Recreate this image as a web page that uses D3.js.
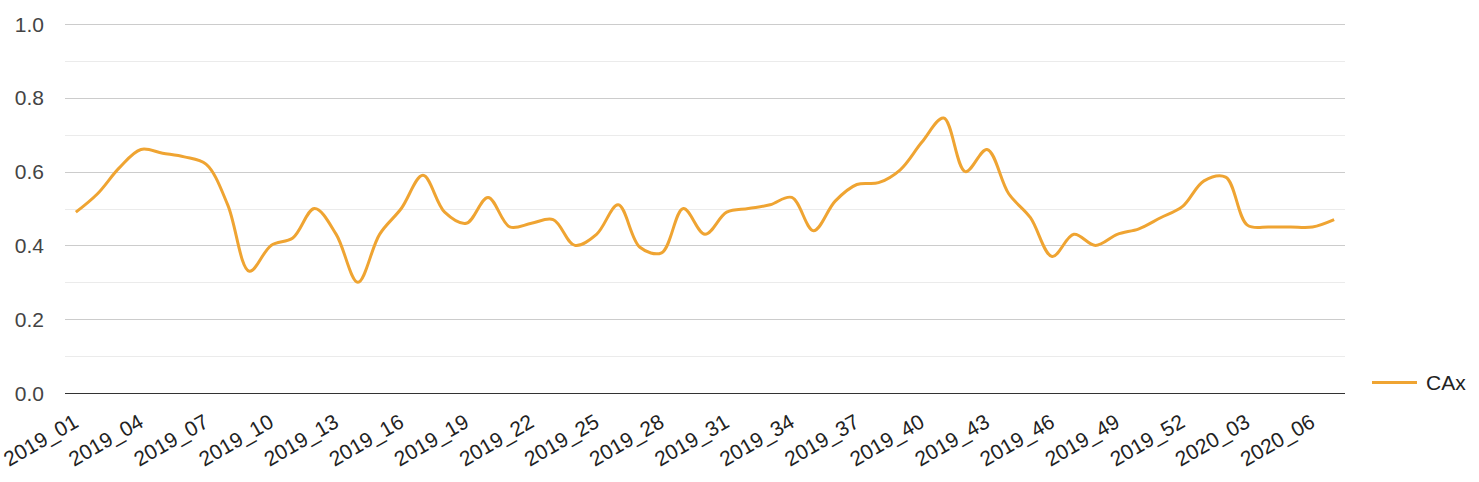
<!DOCTYPE html>
<html>
<head>
<meta charset="utf-8">
<script src="https://cdn.jsdelivr.net/npm/d3@7"></script>
<style>
  html, body { margin: 0; padding: 0; background: #fff; }
  svg { display: block; font-family: Arial, "Liberation Sans", sans-serif; }
</style>
</head>
<body>
<svg id="chart" width="1479" height="482"></svg>
<script>
// ---- data ----
const categories = [
  "2019_01","2019_02","2019_03","2019_04","2019_05","2019_06","2019_07","2019_08","2019_09","2019_10",
  "2019_11","2019_12","2019_13","2019_14","2019_15","2019_16","2019_17","2019_18","2019_19","2019_20",
  "2019_21","2019_22","2019_23","2019_24","2019_25","2019_26","2019_27","2019_28","2019_29","2019_30",
  "2019_31","2019_32","2019_33","2019_34","2019_35","2019_36","2019_37","2019_38","2019_39","2019_40",
  "2019_41","2019_42","2019_43","2019_44","2019_45","2019_46","2019_47","2019_48","2019_49","2019_50",
  "2019_51","2019_52","2020_01","2020_02","2020_03","2020_04","2020_05","2020_06","2020_07"
];
const seriesName = "CAx";
const caxValues = [
  0.49, 0.54, 0.61, 0.66, 0.65, 0.64, 0.62, 0.51, 0.33, 0.40,
  0.42, 0.50, 0.43, 0.30, 0.43, 0.50, 0.59, 0.49, 0.46, 0.53,
  0.45, 0.46, 0.47, 0.40, 0.43, 0.51, 0.395, 0.38, 0.50, 0.43,
  0.49, 0.50, 0.51, 0.53, 0.44, 0.52, 0.565, 0.57, 0.605, 0.68,
  0.745, 0.60, 0.66, 0.54, 0.475, 0.37, 0.43, 0.40, 0.43, 0.445,
  0.475, 0.505, 0.575, 0.585, 0.455, 0.45, 0.45, 0.45, 0.47
];
const yTicks = [0, 0.2, 0.4, 0.6, 0.8, 1.0];
const yMinorTicks = [0.1, 0.3, 0.5, 0.7, 0.9];
const xTickLabels = categories.filter((d, i) => i % 3 === 0);

// ---- layout ----
const svg = d3.select("#chart");
const plotLeft = 65, plotRight = 1345, plotTop = 24, plotBottom = 393;
const color = "#efa432";

const x = d3.scalePoint().domain(categories).range([plotLeft, plotRight]).padding(0.5);
const y = d3.scaleLinear().domain([0, 1]).range([plotBottom, plotTop]);

// minor gridlines
svg.append("g").selectAll("line").data(yMinorTicks).join("line")
  .attr("x1", plotLeft).attr("x2", plotRight)
  .attr("y1", d => Math.round(y(d)) + 0.5).attr("y2", d => Math.round(y(d)) + 0.5)
  .attr("stroke", "#ebebeb").attr("stroke-width", 1);

// major gridlines
svg.append("g").selectAll("line").data(yTicks.filter(d => d !== 0)).join("line")
  .attr("x1", plotLeft).attr("x2", plotRight)
  .attr("y1", d => Math.round(y(d)) + 0.5).attr("y2", d => Math.round(y(d)) + 0.5)
  .attr("stroke", "#cccccc").attr("stroke-width", 1);

// baseline
svg.append("line")
  .attr("x1", plotLeft).attr("x2", plotRight)
  .attr("y1", Math.round(y(0)) + 0.5).attr("y2", Math.round(y(0)) + 0.5)
  .attr("stroke", "#333").attr("stroke-width", 1);

// y tick labels
svg.append("g").selectAll("text").data(yTicks).join("text")
  .attr("x", 44).attr("y", d => y(d))
  .attr("dy", "0.36em")
  .attr("text-anchor", "end")
  .attr("font-size", 21)
  .attr("fill", "#444")
  .text(d => d3.format(".1f")(d));

// x tick labels
svg.append("g").selectAll("text").data(xTickLabels).join("text")
  .attr("transform", d => `translate(${x(d) + 4},426) rotate(-30)`)
  .attr("text-anchor", "end")
  .attr("font-size", 21)
  .attr("fill", "#222")
  .text(d => d);

// line
const line = d3.line()
  .x((d, i) => x(categories[i]))
  .y(d => y(d))
  .curve(d3.curveCatmullRom.alpha(0.5));

svg.append("path")
  .datum(caxValues)
  .attr("d", line)
  .attr("fill", "none")
  .attr("stroke", color)
  .attr("stroke-width", 3)
  .attr("stroke-linejoin", "round");

// legend
const lg = svg.append("g");
lg.append("line")
  .attr("x1", 1372).attr("x2", 1417).attr("y1", 382.5).attr("y2", 382.5)
  .attr("stroke", color).attr("stroke-width", 3);
lg.append("text")
  .attr("x", 1426).attr("y", 382.5).attr("dy", "0.36em")
  .attr("font-size", 21).attr("fill", "#222")
  .text(seriesName);
</script>
</body>
</html>
